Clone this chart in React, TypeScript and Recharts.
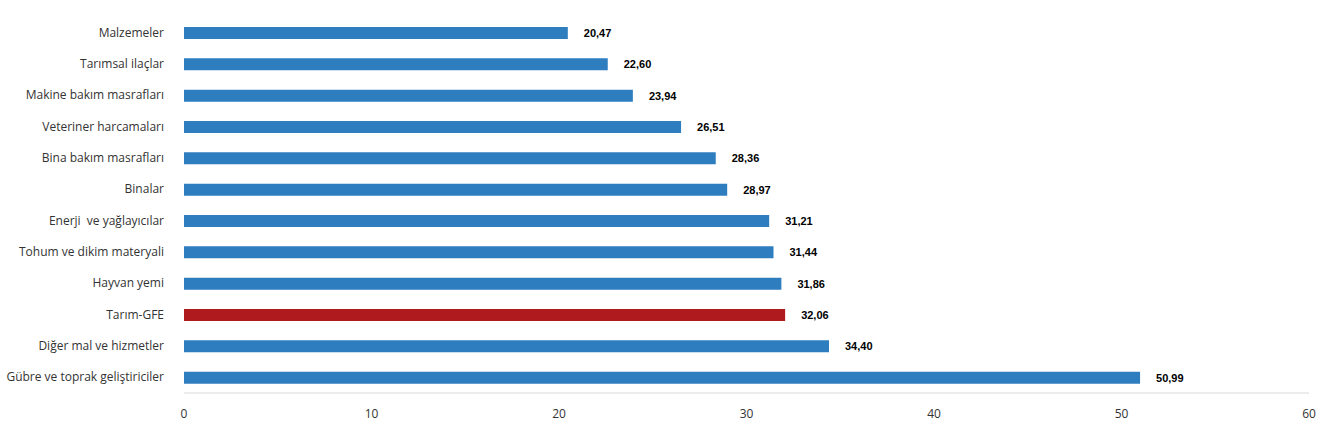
import React from "react";
import { BarChart, Bar, XAxis, YAxis, Cell, LabelList } from "recharts";

const categories = [
  "Malzemeler",
  "Tarımsal ilaçlar",
  "Makine bakım masrafları",
  "Veteriner harcamaları",
  "Bina bakım masrafları",
  "Binalar",
  "Enerji  ve yağlayıcılar",
  "Tohum ve dikim materyali",
  "Hayvan yemi",
  "Tarım-GFE",
  "Diğer mal ve hizmetler",
  "Gübre ve toprak geliştiriciler",
];
const values = [20.47, 22.6, 23.94, 26.51, 28.36, 28.97, 31.21, 31.44, 31.86, 32.06, 34.4, 50.99];
const xTicks = [0, 10, 20, 30, 40, 50, 60];

const data = categories.map((name, i) => ({ name, value: values[i] }));

const CatTick = (props: any) => {
  const { x, y, payload } = props;
  return (
    <text
      x={x - 14}
      y={y}
      dy={4}
      textAnchor="end"
      fontSize={12}
      fill="#333"
      style={{ whiteSpace: "pre" }}
    >
      {payload.value}
    </text>
  );
};

export default function App() {
  return (
    <div style={{ position: "fixed", left: 0, top: 0, background: "#fff", fontFamily: "'Open Sans', sans-serif" }}>
      <BarChart
        width={1332}
        height={432}
        data={data}
        layout="vertical"
        margin={{ top: 17, right: 23, left: 0, bottom: 9 }}
        barCategoryGap={0}
      >
        <XAxis
          type="number"
          domain={[0, 60]}
          ticks={xTicks}
          tick={{ fontSize: 12, fill: "#333" }}
          tickLine={false}
          axisLine={{ stroke: "#d9d9d9" }}
          tickMargin={10}
        />
        <YAxis
          type="category"
          dataKey="name"
          width={184}
          tick={<CatTick />}
          tickLine={false}
          axisLine={false}
          tickMargin={0}
        />
        <Bar dataKey="value" barSize={12} isAnimationActive={false}>
          {data.map((d) => (
            <Cell key={d.name} fill={d.name === "Tarım-GFE" ? "#AE1A1E" : "#2E7EBF"} />
          ))}
          <LabelList
            dataKey="value"
            position="right"
            offset={16}
            formatter={(v: number) => v.toFixed(2).replace(".", ",")}
            style={{ fontSize: 11, fontWeight: "bold", fill: "#000", fontFamily: "Arial, 'Liberation Sans', sans-serif" }}
          />
        </Bar>
      </BarChart>
    </div>
  );
}
